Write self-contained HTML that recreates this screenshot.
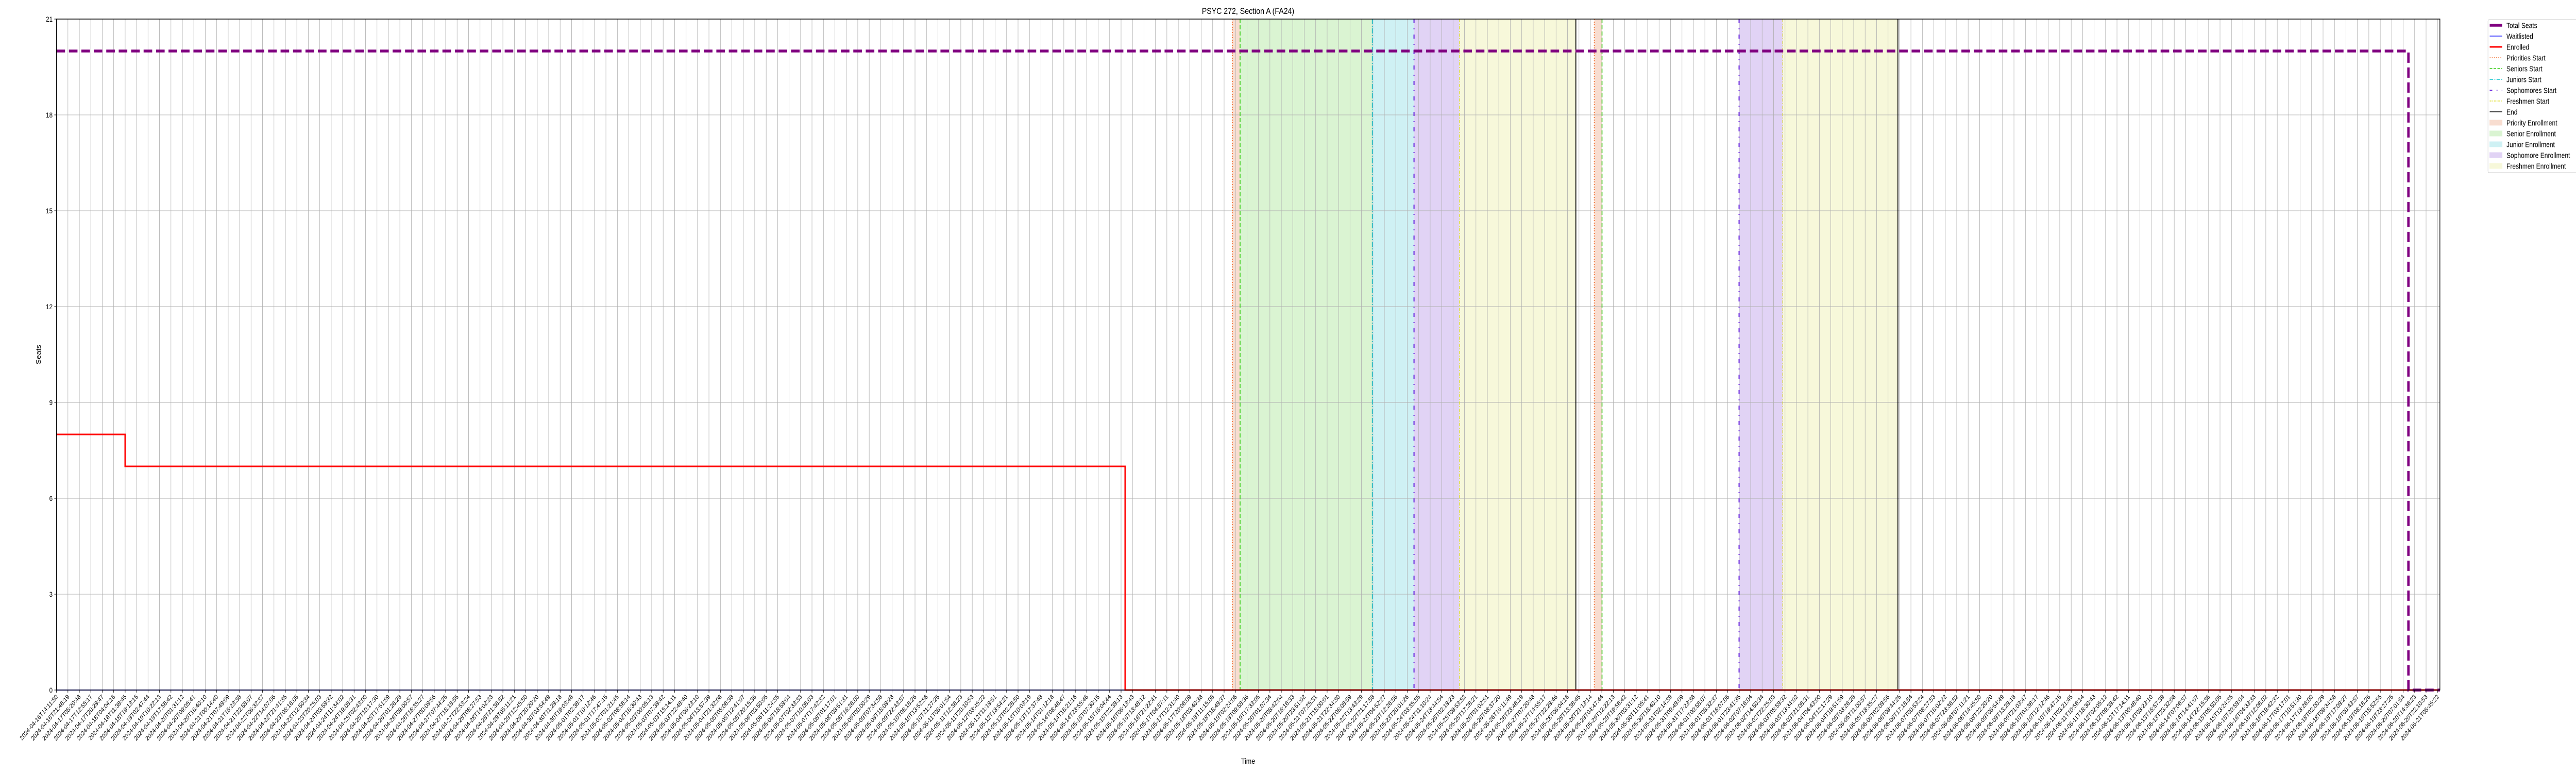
<!DOCTYPE html>
<html><head><meta charset="utf-8"><meta name="viewport" content="width=6000, initial-scale=1"><style>
html,body{margin:0;padding:0;background:#fff;width:100%;height:100%;overflow:hidden;}
svg{display:block;overflow:hidden;width:100vw;height:100vh;font-family:"Liberation Sans","DejaVu Sans",sans-serif;}
</style></head><body>
<svg id="chart" viewBox="0 0 6000 1500" preserveAspectRatio="none" xmlns="http://www.w3.org/2000/svg">
<defs><clipPath id="frameclip"><rect x="0" y="0" width="6000" height="1500"/></clipPath></defs>
<g clip-path="url(#frameclip)">
<g id="bands"></g>
<g id="grid"></g>
<g id="vlines"></g>
<g id="series"></g>
<g id="axes"></g>
<text x="2907" y="27" font-size="17" text-anchor="middle">PSYC 272, Section A (FA24)</text>
<text x="2907" y="1482" font-size="15" text-anchor="middle">Time</text>
<text x="0" y="0" font-size="15" text-anchor="middle" transform="translate(95,688) rotate(-90)">Seats</text>
<g id="legend"></g>
</g>
</svg>
<script>
// ---- data ----
const startTime = "2024-04-16T14:11:50";
const endTime = "2024-06-21T07:20:00";
const yTicks = [0, 3, 6, 9, 12, 15, 18, 21];
const enrolledTimes = ["2024-04-16T14:11:50", "2024-04-18T11:36:00", "2024-05-16T01:18:00", "2024-06-21T07:20:00"];
const enrolledValues = [8, 7, 0, 0];
const waitlistTimes = ["2024-04-16T14:11:50", "2024-05-16T01:18:00"];
const waitlistValues = [0, 0];
const seatTimes = ["2024-04-16T14:11:50", "2024-06-20T10:30:00", "2024-06-21T07:20:00"];
const seatValues = [20, 0, 0];
const priorityStarts = ["2024-05-19T00:18:00", "2024-05-28T23:48:00"];
const seniorStarts = ["2024-05-19T05:24:00", "2024-05-29T04:54:00"];
const juniorStarts = ["2024-05-22T20:54:00"];
const sophomoreStarts = ["2024-05-24T00:30:00", "2024-06-01T23:36:00"];
const freshmenStarts = ["2024-05-25T06:36:00", "2024-06-03T04:30:00"];
const endTimes = ["2024-05-28T11:36:00", "2024-06-06T08:42:00"];
const tickCount = 209;

// ---- layout ----
const L = 131.5, R = 5683, T = 37, B = 1339;
const NS = "http://www.w3.org/2000/svg";
const t0 = Date.parse(startTime + "Z"), t1 = Date.parse(endTime + "Z");
function xs(s) { return L + (Date.parse(s + "Z") - t0) / (t1 - t0) * (R - L); }
function xms(ms) { return L + (ms - t0) / (t1 - t0) * (R - L); }
function ys(v) { return B - v / 21 * (B - T); }
function mk(tag, attrs, parent) {
  const e = document.createElementNS(NS, tag);
  for (const k in attrs) e.setAttribute(k, attrs[k]);
  parent.appendChild(e); return e;
}
const gBands = document.getElementById('bands'), gGrid = document.getElementById('grid'),
  gV = document.getElementById('vlines'), gS = document.getElementById('series'),
  gA = document.getElementById('axes'), gL = document.getElementById('legend');

// bands
function band(a, b, color, name) {
  const r = mk('rect', { x: xs(a), y: T, width: xs(b) - xs(a), height: B - T, fill: color }, gBands);
  
  
}
band(priorityStarts[0], seniorStarts[0], '#f8ddd0', 'priority-band-1');
band(seniorStarts[0], juniorStarts[0], '#daf4d2', 'senior-band-1');
band(juniorStarts[0], sophomoreStarts[0], '#cff1f4', 'junior-band-1');
band(sophomoreStarts[0], freshmenStarts[0], '#e1d3f5', 'sophomore-band-1');
band(freshmenStarts[0], endTimes[0], '#f7f8da', 'freshmen-band-1');
band(priorityStarts[1], seniorStarts[1], '#f8ddd0', 'priority-band-2');
band(sophomoreStarts[1], freshmenStarts[1], '#e1d3f5', 'sophomore-band-2');
band(freshmenStarts[1], endTimes[1], '#f7f8da', 'freshmen-band-2');

// grid + x ticks
function pad(n) { return String(n).padStart(2, '0'); }
for (let i = 0; i < tickCount; i++) {
  const ms = t0 + (t1 - t0) * (i / (tickCount - 1)) * 0.999;
  const x = xms(ms);
  const gl = mk('line', { x1: x, x2: x, y1: T, y2: B, stroke: '#b0b0b0', 'stroke-width': 1 }, gGrid);
  
  
  const tk = mk('line', { x1: x, x2: x, y1: B, y2: B + 5, stroke: '#000', 'stroke-width': 1 }, gA);
  
  
  const d = new Date(ms);
  const lbl = d.getUTCFullYear() + '-' + pad(d.getUTCMonth() + 1) + '-' + pad(d.getUTCDate()) + 'T' + pad(d.getUTCHours()) + ':' + pad(d.getUTCMinutes()) + ':' + pad(d.getUTCSeconds());
  const t = mk('text', { x: 0, y: 0, 'font-size': 12.5, 'text-anchor': 'end', transform: `translate(${x + 4},${B + 14}) rotate(-45)` }, gA);
  t.textContent = lbl;
  
  
}
yTicks.forEach(v => {
  const y = ys(v);
  const gl = mk('line', { x1: L, x2: R, y1: y, y2: y, stroke: '#b0b0b0', 'stroke-width': 1 }, gGrid);
  
  
  const tk = mk('line', { x1: L - 5, x2: L, y1: y, y2: y, stroke: '#000', 'stroke-width': 1 }, gA);
  
  
  const t = mk('text', { x: L - 9, y: y + 5, 'font-size': 14, 'text-anchor': 'end' }, gA);
  t.textContent = v;
  
  
});
const frame = mk('rect', { x: L, y: T, width: R - L, height: B - T, fill: 'none', stroke: '#000', 'stroke-width': 1.5 }, gA);



// vertical phase lines
function vl(arr, color, dash, w, name) {
  arr.forEach(s => {
    const l = mk('line', { x1: xs(s), x2: xs(s), y1: T, y2: B, stroke: color, 'stroke-width': w }, gV);
    if (dash) l.setAttribute('stroke-dasharray', dash);
    
    
  });
}
vl(priorityStarts, '#f26b2a', '2,3', 2, 'priorities-start-line');
vl(seniorStarts, '#33cc11', '8,4', 2, 'seniors-start-line');
vl(juniorStarts, '#11c3cc', '10,3,2,3', 2, 'juniors-start-line');
vl(sophomoreStarts, '#6622dd', '8,10,2,10', 2.5, 'sophomores-start-line');
vl(freshmenStarts, '#dddd22', '6,3,2,3', 1.5, 'freshmen-start-line');
vl(endTimes, '#000', null, 2, 'end-line');

// step series
function stepPath(times, vals) {
  let d = '';
  for (let i = 0; i < times.length; i++) {
    const x = xs(times[i]), y = ys(vals[i]);
    if (i === 0) d += `M${x},${y}`;
    else d += `H${x}V${y}`;
  }
  return d;
}
const wl = mk('path', { d: stepPath(waitlistTimes, waitlistValues), fill: 'none', stroke: '#2222ff', 'stroke-width': 2 }, gS);


const en = mk('path', { d: stepPath(enrolledTimes, enrolledValues), fill: 'none', stroke: '#ff0000', 'stroke-width': 3 }, gS);


const ts = mk('path', { d: stepPath(seatTimes, seatValues), fill: 'none', stroke: '#800080', 'stroke-width': 5.5, 'stroke-dasharray': '20,9' }, gS);



// legend
const lb = mk('rect', { x: 5795, y: 38, width: 210, height: 297, rx: 3, fill: '#fff', 'fill-opacity': 0.8, stroke: '#cccccc', 'stroke-width': 1 }, gL);


const legendItems = [
  ['Total Seats', 'line', '#800080', 5.5, null],
  ['Waitlisted', 'line', '#2222ff', 1.5, null],
  ['Enrolled', 'line', '#ff0000', 3, null],
  ['Priorities Start', 'line', '#f26b2a', 1.5, '2,3'],
  ['Seniors Start', 'line', '#33cc11', 1.5, '6,3'],
  ['Juniors Start', 'line', '#11c3cc', 1.5, '8,3,2,3'],
  ['Sophomores Start', 'line', '#6622dd', 2, '6,10,2,10'],
  ['Freshmen Start', 'line', '#dddd22', 1.5, '4,2,2,2'],
  ['End', 'line', '#000', 1.5, null],
  ['Priority Enrollment', 'patch', '#f8ddd0'],
  ['Senior Enrollment', 'patch', '#daf4d2'],
  ['Junior Enrollment', 'patch', '#cff1f4'],
  ['Sophomore Enrollment', 'patch', '#e1d3f5'],
  ['Freshmen Enrollment', 'patch', '#f7f8da']
];
legendItems.forEach((it, i) => {
  const cy = 49 + i * 21;
  const g = mk('g', {}, gL);
  
  
  if (it[1] === 'line') {
    const l = mk('line', { x1: 5799, x2: 5828, y1: cy, y2: cy, stroke: it[2], 'stroke-width': it[3] }, g);
    if (it[4]) l.setAttribute('stroke-dasharray', it[4]);
  } else {
    mk('rect', { x: 5799, y: cy - 5, width: 29, height: 10, fill: it[2], stroke: it[2] }, g);
  }
  const t = mk('text', { x: 5838, y: cy + 5.5, 'font-size': 14.5 }, g);
  t.textContent = it[0];
});
</script>
</body></html>
